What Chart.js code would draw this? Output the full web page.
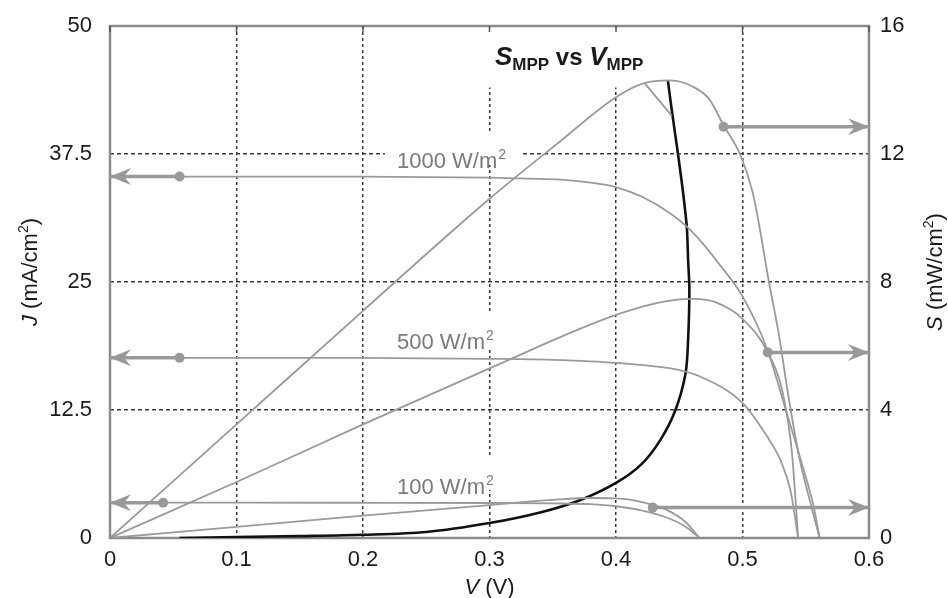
<!DOCTYPE html>
<html>
<head>
<meta charset="utf-8">
<script src="https://cdn.jsdelivr.net/npm/chart.js@4.4.1/dist/chart.umd.min.js"></script>
<style>
  html, body { margin: 0; padding: 0; background: #fff; }
  #wrap { width: 948px; height: 598px; }
</style>
</head>
<body>
<div id="wrap"><canvas id="grafico" width="948" height="598"></canvas></div>
<script>
// Ticks
const vTicks = [0, 0.1, 0.2, 0.3, 0.4, 0.5, 0.6];
const vTickLabels = ['0', '0.1', '0.2', '0.3', '0.4', '0.5', '0.6'];
const jTicks = [0, 12.5, 25, 37.5, 50];
const jTickLabels = ['0', '12.5', '25', '37.5', '50'];
const sTicks = [0, 4, 8, 12, 16];
const sTickLabels = ['0', '4', '8', '12', '16'];

// J-V curves (mA/cm2, left axis)
const vJ1000 = [0, 0.1, 0.2, 0.3, 0.33, 0.356, 0.38, 0.399, 0.421, 0.443, 0.456, 0.469, 0.48, 0.5, 0.519, 0.535, 0.548, 0.556, 0.561];
const j1000  = [35.3, 35.3, 35.3, 35.2, 35.1, 35.0, 34.7, 34.3, 33.3, 31.7, 30.4, 28.7, 27.0, 23.6, 18.6, 12.2, 6.8, 3.2, 0];
const vJ500 = [0, 0.1, 0.2, 0.3, 0.35, 0.4, 0.45, 0.466, 0.5, 0.519, 0.53, 0.538, 0.544];
const j500  = [17.6, 17.6, 17.6, 17.5, 17.4, 17.1, 16.4, 15.8, 13.2, 10.0, 7.6, 4.6, 0];
const vJ100 = [0, 0.1, 0.2, 0.3, 0.35, 0.38, 0.4, 0.42, 0.44, 0.455, 0.466];
const j100  = [3.45, 3.45, 3.44, 3.42, 3.38, 3.3, 3.1, 2.7, 2.0, 1.1, 0];

// P-V curves (mW/cm2, right axis)
const vS1000 = [0, 0.1, 0.2, 0.3, 0.356, 0.399, 0.421, 0.443, 0.461, 0.474, 0.485, 0.498, 0.508, 0.514, 0.52, 0.529, 0.536, 0.545, 0.553, 0.561];
const s1000  = [0, 3.55, 7.1, 10.6, 12.4, 13.75, 14.2, 14.3, 14.1, 13.7, 12.9, 12.0, 10.8, 9.6, 8.2, 6.3, 4.5, 2.5, 1.2, 0];
const vS500 = [0, 0.1, 0.2, 0.3, 0.4, 0.44, 0.461, 0.48, 0.5, 0.52, 0.532, 0.539, 0.544];
const s500  = [0, 1.75, 3.55, 5.3, 6.97, 7.4, 7.47, 7.35, 6.85, 5.8, 4.5, 2.7, 0];
const vS100 = [0, 0.1, 0.2, 0.3, 0.35, 0.38, 0.4, 0.42, 0.44, 0.455, 0.466];
const s100  = [0, 0.35, 0.7, 1.03, 1.19, 1.25, 1.24, 1.13, 0.88, 0.5, 0];

// S_MPP vs V_MPP (right axis)
const vMpp = [0.055, 0.1, 0.15, 0.2, 0.25, 0.3, 0.34, 0.372, 0.4, 0.42, 0.435, 0.447, 0.455, 0.457, 0.458, 0.457, 0.456, 0.453, 0.449, 0.444, 0.441];
const sMpp = [0, 0.03, 0.06, 0.1, 0.19, 0.47, 0.8, 1.19, 1.72, 2.3, 3.06, 4.0, 5.15, 6.2, 7.75, 8.7, 9.7, 10.8, 12.0, 13.4, 14.3];
const vTramo = [0.423, 0.444];
const sTramo = [14.2, 13.2];

// Arrows: [V of marker, level]
const flechaJ1000 = [0.055, 35.3];
const flechaJ500 = [0.055, 17.6];
const flechaJ100 = [0.042, 3.45];
const flechaS1000 = [0.485, 12.85];
const flechaS500 = [0.52, 5.8];
const flechaS100 = [0.429, 0.95];

const etiquetas = ['1000 W/m', '500 W/m', '100 W/m'];

const pts = (xs, ys) => xs.map((x, i) => ({ x: x, y: ys[i] }));

const gris = '#9a9a9a';
const grisFlecha = '#999999';

const curva = (xs, ys, eje) => ({
    data: pts(xs, ys),
    yAxisID: eje,
    showLine: true,
    borderColor: gris,
    borderWidth: 1.8,
    pointRadius: 0,
    cubicInterpolationMode: 'monotone'
});

const flecha = (f, eje, lado) => ({
    data: [{ x: f[0], y: f[1] }, { x: lado === 'left' ? 0 : 0.6, y: f[1] }],
    yAxisID: eje,
    showLine: true,
    borderColor: grisFlecha,
    backgroundColor: grisFlecha,
    borderWidth: 3.5,
    pointRadius: [5, 0],
    pointBorderWidth: 0,
    arrow: lado
});

// white boxes behind text (grid gaps) and the texts
const textos = {
    id: 'textos',
    beforeDatasetsDraw(chart) {
        const ctx = chart.ctx;
        const a = chart.chartArea;
        ctx.save();
        ctx.fillStyle = '#fff';
        ctx.fillRect(478, a.top + 1.5, 178, 86 - a.top);
        ctx.fillRect(385, 133, 138, 32);
        ctx.fillRect(390, 312, 115, 38);
        ctx.fillRect(390, 458, 115, 32);
        // frame
        ctx.strokeStyle = '#8a8a8a';
        ctx.lineWidth = 2.5;
        ctx.strokeRect(a.left, a.top, a.right - a.left, a.bottom - a.top);
        // small ticks inside at the top
        ctx.lineWidth = 1.5;
        ctx.strokeStyle = '#555';
        vTicks.forEach(v => {
            const x = chart.scales.x.getPixelForValue(v);
            ctx.beginPath(); ctx.moveTo(x, a.top); ctx.lineTo(x, a.top + 6); ctx.stroke();
        });
        // irradiance labels
        ctx.fillStyle = '#7a7a7a';
        ctx.textBaseline = 'alphabetic';
        const pos = [[397, 168], [397, 349], [397, 494]];
        etiquetas.forEach((t, i) => {
            ctx.font = '22px "Liberation Sans", Arial, sans-serif';
            ctx.fillText(t, pos[i][0], pos[i][1]);
            const w = ctx.measureText(t).width;
            ctx.font = '14px "Liberation Sans", Arial, sans-serif';
            ctx.fillText('2', pos[i][0] + w + 1, pos[i][1] - 9);
        });
        ctx.restore();
    },
    afterDatasetsDraw(chart) {
        const ctx = chart.ctx;
        chart.data.datasets.forEach((ds, i) => {
            if (!ds.arrow) return;
            const meta = chart.getDatasetMeta(i);
            const p = meta.data[meta.data.length - 1];
            const d = ds.arrow === 'left' ? -1 : 1;
            ctx.save();
            ctx.fillStyle = ds.borderColor;
            ctx.beginPath();
            ctx.moveTo(p.x, p.y);
            ctx.lineTo(p.x - d * 21, p.y - 8.5);
            ctx.lineTo(p.x - d * 14, p.y);
            ctx.lineTo(p.x - d * 21, p.y + 8.5);
            ctx.closePath();
            ctx.fill();
            ctx.restore();
        });
    },
    afterDraw(chart) {
        const ctx = chart.ctx;
        ctx.save();
        ctx.fillStyle = '#1a1a1a';
        ctx.textBaseline = 'alphabetic';
        // generic piece writer
        const escribir = (piezas, x0, y0) => {
            let x = x0;
            piezas.forEach(p => {
                ctx.font = p[1];
                ctx.fillText(p[0], x, y0 + (p[2] || 0));
                x += ctx.measureText(p[0]).width;
            });
        };
        const ancho = piezas => piezas.reduce((s, p) => { ctx.font = p[1]; return s + ctx.measureText(p[0]).width; }, 0);
        const f = '22px "Liberation Sans", Arial, sans-serif';
        const fi = 'italic 22px "Liberation Sans", Arial, sans-serif';
        const fs = '14px "Liberation Sans", Arial, sans-serif';

        // x title
        const tx = [['V', fi], [' (V)', f]];
        escribir(tx, chart.scales.x.getPixelForValue(0.3) - ancho(tx) / 2, 594);

        // left title
        const tj = [['J', fi], [' (mA/cm', f], ['2', fs, -9], [')', f]];
        ctx.save();
        ctx.translate(37, 272);
        ctx.rotate(-Math.PI / 2);
        escribir(tj, -ancho(tj) / 2, 0);
        ctx.restore();

        // right title
        const ts = [['S', fi], [' (mW/cm', f], ['2', fs, -9], [')', f]];
        ctx.save();
        ctx.translate(942, 272);
        ctx.rotate(-Math.PI / 2);
        escribir(ts, -ancho(ts) / 2, 0);
        ctx.restore();

        // chart title
        const tt = [
            ['S', 'italic bold 26px "Liberation Sans", Arial, sans-serif'],
            ['MPP', 'bold 17px "Liberation Sans", Arial, sans-serif', 5],
            [' vs ', 'bold 24px "Liberation Sans", Arial, sans-serif'],
            ['V', 'italic bold 26px "Liberation Sans", Arial, sans-serif'],
            ['MPP', 'bold 17px "Liberation Sans", Arial, sans-serif', 5]
        ];
        escribir(tt, 495, 65);
        ctx.restore();
    }
};

const fuenteTicks = { family: '"Liberation Sans", Arial, sans-serif', size: 22 };

new Chart(document.getElementById('grafico'), {
    type: 'scatter',
    data: {
        datasets: [
            curva(vJ1000, j1000, 'y'),
            curva(vJ500, j500, 'y'),
            curva(vJ100, j100, 'y'),
            curva(vS1000, s1000, 'y2'),
            curva(vS500, s500, 'y2'),
            curva(vS100, s100, 'y2'),
            {
                data: pts(vTramo, sTramo), yAxisID: 'y2', showLine: true,
                borderColor: gris, borderWidth: 1.8, pointRadius: 0
            },
            {
                data: pts(vMpp, sMpp), yAxisID: 'y2', showLine: true,
                borderColor: '#111', borderWidth: 2.6, pointRadius: 0, tension: 0.3
            },
            flecha(flechaJ1000, 'y', 'left'),
            flecha(flechaJ500, 'y', 'left'),
            flecha(flechaJ100, 'y', 'left'),
            flecha(flechaS1000, 'y2', 'right'),
            flecha(flechaS500, 'y2', 'right'),
            flecha(flechaS100, 'y2', 'right')
        ]
    },
    options: {
        responsive: false,
        animation: false,
        devicePixelRatio: 1,
        layout: { padding: { top: 26, left: 0, right: 0, bottom: 0 } },
        plugins: {
            legend: { display: false },
            tooltip: { enabled: false }
        },
        scales: {
            x: {
                type: 'linear',
                min: 0, max: 0.6,
                afterBuildTicks: s => { s.ticks = vTicks.map(v => ({ value: v })); },
                afterFit: s => { s.height = 60; s.paddingLeft = 0; s.paddingRight = 0; },
                ticks: {
                    color: '#1a1a1a', font: fuenteTicks, padding: 9, maxRotation: 0,
                    callback: (v, i) => vTickLabels[i]
                },
                grid: { color: '#3a3a3a', lineWidth: 1.5, drawTicks: false },
                border: { display: false, dash: [3, 3] }
            },
            y: {
                position: 'left',
                min: 0, max: 50,
                afterBuildTicks: s => { s.ticks = jTicks.map(v => ({ value: v })); },
                afterFit: s => { s.width = 110; s.paddingTop = 0; s.paddingBottom = 0; },
                ticks: {
                    color: '#1a1a1a', font: fuenteTicks, padding: 18,
                    callback: (v, i) => jTickLabels[i]
                },
                grid: { color: '#3a3a3a', lineWidth: 1.5, drawTicks: false },
                border: { display: false, dash: [4, 3] }
            },
            y2: {
                position: 'right',
                min: 0, max: 16,
                afterBuildTicks: s => { s.ticks = sTicks.map(v => ({ value: v })); },
                afterFit: s => { s.width = 79; s.paddingTop = 0; s.paddingBottom = 0; },
                ticks: {
                    color: '#1a1a1a', font: fuenteTicks, padding: 11,
                    callback: (v, i) => sTickLabels[i]
                },
                grid: { display: false, drawTicks: false },
                border: { display: false }
            }
        }
    },
    plugins: [textos]
});
</script>
</body>
</html>
